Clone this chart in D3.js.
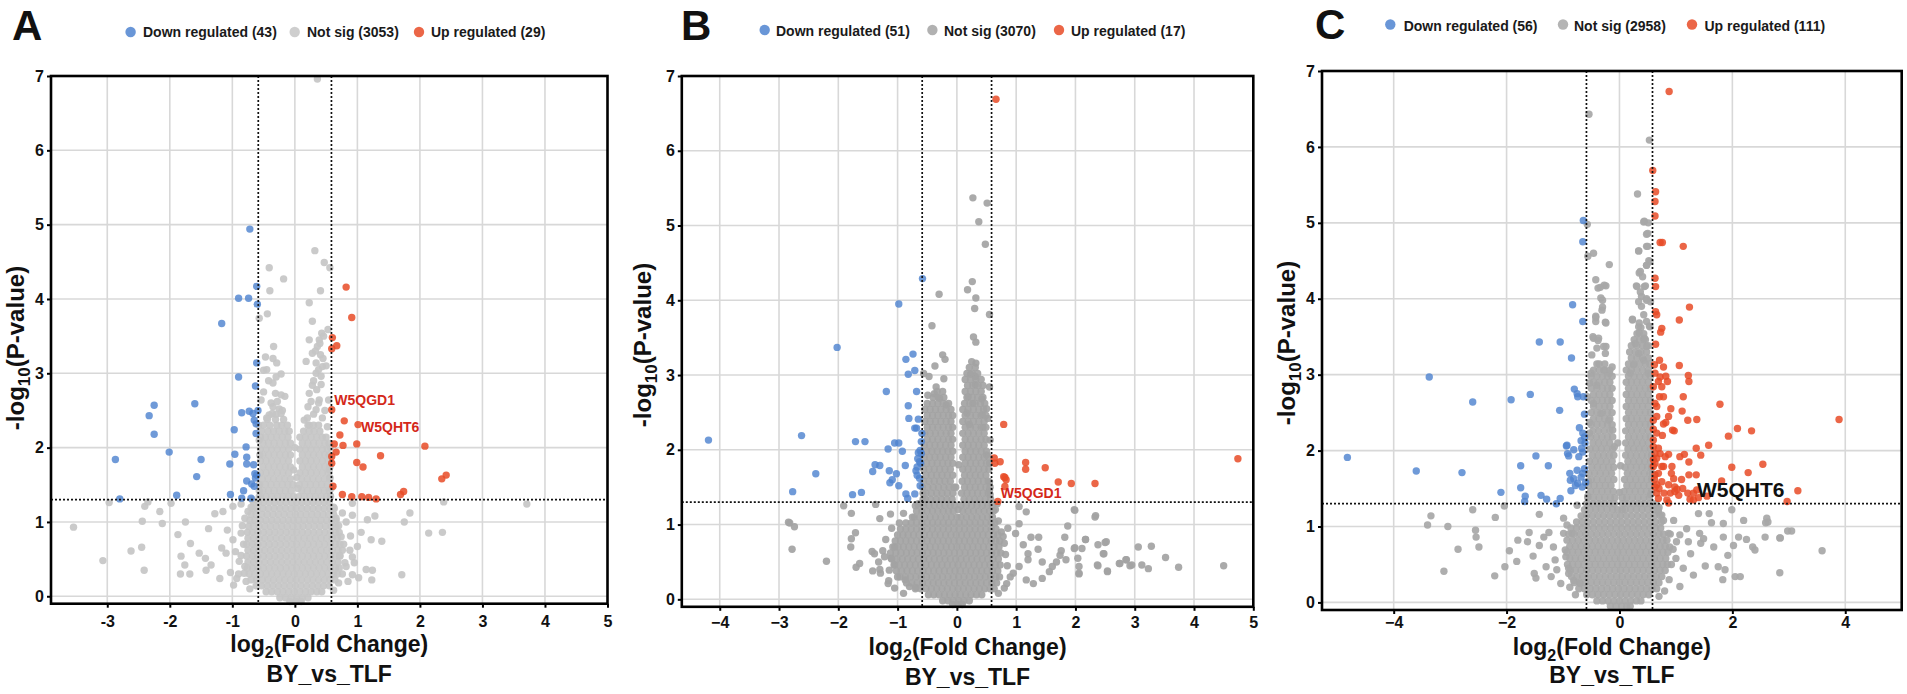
<!DOCTYPE html>
<html><head><meta charset="utf-8">
<script src="https://cdn.jsdelivr.net/npm/d3@7"></script>
<style>
body{margin:0;background:#fff;}
svg text{font-family:"Liberation Sans",Arial,Helvetica,sans-serif;font-weight:bold;}
</style></head><body>
<svg id="chart" width="1907" height="694"></svg>
<script>
// ---------------- DATA ----------------
const legendNames = ["Down regulated", "Not sig", "Up regulated"];
const countsA = [43, 3053, 29];
const countsB = [51, 3070, 17];
const countsC = [56, 2958, 111];
const panelLetters = ["A", "B", "C"];
const yTicks = [0, 1, 2, 3, 4, 5, 6, 7];
const xTicksA = [-3, -2, -1, 0, 1, 2, 3, 4, 5];
const xTicksB = [-4, -3, -2, -1, 0, 1, 2, 3, 4, 5];
const xTicksC = [-4, -2, 0, 2, 4];
const foldCut = 0.585;   // log2(1.5)
const pCut = 1.301;      // -log10(0.05)
const xTitle = ["log", "2", "(Fold Change)"];
const yTitle = ["-log", "10", "(P-value)"];
const comparison = "BY_vs_TLF";
const labelsA = [{gene: "W5QGD1", x: 0.59, y: 2.51}, {gene: "W5QHT6", x: 1.01, y: 2.31}];
const labelsB = [{gene: "W5QGD1", x: 0.69, y: 1.31}];
const labelsC = [{gene: "W5QHT6", x: 1.31, y: 1.35}];

// Panel A
const aDown = [[-0.72,4.94],[-0.61,4.17],[-0.90,4.01],[-0.74,4.01],[-0.60,3.93],[-1.17,3.67],[-0.61,3.14],[-0.90,2.95],[-0.63,2.83],[-2.25,2.57],[-1.60,2.59],[-2.33,2.43],[-0.85,2.47],[-0.73,2.49],[-0.59,2.50],[-2.25,2.18],[-0.97,2.24],[-0.65,2.37],[-0.62,2.32],[-0.78,2.01],[-2.01,1.94],[-2.87,1.84],[-1.50,1.84],[-0.96,1.91],[-0.77,1.87],[-1.04,1.78],[-0.77,1.78],[-0.66,1.77],[-1.57,1.61],[-0.61,1.63],[-0.77,1.55],[-0.69,1.51],[-2.80,1.31],[-1.89,1.36],[-1.03,1.37],[-0.82,1.42],[-0.85,1.32],[-0.70,1.32],[-0.64,1.65],[-0.63,1.59],[-0.67,2.46],[-0.62,2.19],[-0.65,1.48]];
const aUp = [[0.82,4.16],[0.91,3.75],[0.60,3.48],[0.67,3.37],[0.59,3.33],[0.59,2.51],[0.79,2.36],[1.01,2.31],[0.72,2.17],[0.63,2.05],[0.77,2.03],[0.99,2.05],[2.08,2.02],[0.66,1.94],[0.59,1.88],[1.37,1.89],[0.99,1.80],[1.09,1.74],[2.35,1.58],[2.42,1.63],[0.61,1.48],[0.76,1.37],[0.91,1.34],[1.07,1.34],[1.18,1.33],[1.30,1.31],[1.69,1.37],[1.74,1.41],[0.59,1.79]];
const aGrey = [[0.36,6.96],[0.32,4.65],[0.47,4.49],[0.56,4.42],[-0.41,4.42],[-0.18,4.27],[-0.40,4.11],[0.41,4.11],[0.23,3.95],[-0.44,3.80],[-0.57,3.74],[0.28,3.70],[0.53,3.59],[0.43,3.54],[0.23,3.45],[0.39,3.45],[-0.34,3.36],[0.36,3.36],[0.28,3.27],[0.41,3.25],[0.18,3.16],[0.34,3.14],[-0.47,3.22],[-0.29,3.14],[-0.50,3.04],[-0.22,2.99],[0.34,3.00],[0.42,2.96],[0.44,3.09],[-0.35,2.87],[0.28,2.84],[-0.31,2.73],[-0.16,2.69],[-0.22,2.71],[-0.54,2.64],[0.23,2.73],[0.39,2.64],[0.54,2.64],[-0.35,2.55],[-0.25,2.52],[-0.41,2.44],[0.21,2.55],[0.34,2.51],[0.15,2.37],[0.23,2.30],
[0.30,2.45],[0.38,2.60],[0.26,2.62],[0.35,2.78],[0.42,2.85],[0.30,2.90],[0.38,3.05],[0.45,3.20],[0.33,3.30],[0.40,3.40],[0.46,3.50],[0.50,3.10],[0.48,2.50],[0.44,2.40],[0.20,2.40],[-0.45,2.40],[-0.30,2.45],[-0.20,2.50],[-0.38,2.60],[-0.28,2.62],[-0.50,2.75],[-0.42,2.90],[-0.30,2.95],[-0.45,3.05],[-0.35,3.20],
[-3.54,0.93],[-3.07,0.48],[-2.97,1.26],[-2.62,0.61],[-2.45,0.66],[-2.44,1.01],[-2.41,0.35],[-2.40,1.21],[-2.35,1.27],[-2.16,1.14],[-2.12,0.98],[-1.98,1.25],[-1.87,0.83],[-1.82,0.54],[-1.76,0.42],[-1.83,0.30],[-1.75,1.00],[-1.67,0.71],[-1.68,0.30],[-1.53,0.58],[-1.43,0.51],[-1.42,0.35],[-1.38,0.91],[-1.34,0.42],[-1.28,1.11],[-1.20,0.24],[-1.15,1.14],[-1.17,0.65],[-1.10,0.58],[-1.08,0.89],[-1.03,0.32],[-0.99,0.76],[-0.93,0.24],[-0.89,0.47],[-0.86,0.85],[-0.81,0.31],[-0.99,1.21],[-0.86,1.24],[-0.75,1.14],
[0.76,1.12],[0.82,1.00],[0.89,0.81],[0.92,1.09],[0.92,0.53],[1.00,0.67],[1.06,0.86],[1.16,1.03],[1.22,0.76],[1.28,1.08],[1.24,0.35],[1.23,0.22],[1.14,0.36],[1.39,0.74],[0.92,0.29],[0.82,0.40],[0.76,0.62],[0.92,1.25],[1.75,1.00],[1.84,1.12],[1.71,0.29],[2.14,0.85],[2.36,0.86],[2.38,1.27],[3.71,1.24],
[0.62,1.20],[0.66,1.05],[0.70,0.95],[0.74,0.80],[0.78,0.70],[0.72,0.55],[0.80,0.45],[0.76,0.30],[0.70,0.18],[0.62,0.08],[0.85,0.20],[0.88,0.62],[0.95,0.45],[1.02,0.25],[-0.80,1.05],[-0.84,0.95],[-0.82,0.70],[-0.86,0.55],[-0.80,0.40],[-0.78,0.20],[-0.72,0.10],[-0.90,0.30],[-0.95,0.60],[-0.98,0.15],[-0.70,1.20],[-0.68,1.30],[0.57,1.35],[0.58,1.45],[0.56,1.60],[0.55,1.70],[0.57,2.00],[0.52,2.28],[-0.58,2.30],[-0.57,2.10],[-0.56,1.90],[-0.57,1.50],[0.05,1.45],[-0.02,1.70],[0.00,2.00],[0.03,1.60]];
const aCoreRows = [
 [2.46, [-0.36,-0.22]],
 [2.38, [-0.44,-0.31,-0.18]],
 [2.30, [-0.50,-0.40,-0.29,-0.21,-0.12,0.21,0.30,0.38]],
 [2.22, [-0.53,-0.43,-0.34,-0.25,-0.16,-0.09,0.14,0.23,0.31,0.40]],
 [2.14, [-0.55,-0.47,-0.38,-0.29,-0.20,-0.11,0.08,0.17,0.26,0.35,0.44,0.50]],
 [2.06, [-0.51,-0.42,-0.33,-0.24,-0.15,-0.07,0.12,0.21,0.30,0.39,0.48,0.55]],
 [1.98, [-0.55,-0.46,-0.37,-0.28,-0.19,-0.10,0.08,0.17,0.26,0.35,0.44,0.52]],
 [1.90, [-0.51,-0.42,-0.33,-0.24,-0.15,-0.07,0.12,0.21,0.30,0.39,0.48,0.55]],
 [1.82, [-0.55,-0.46,-0.37,-0.28,-0.19,-0.10,0.08,0.17,0.26,0.35,0.44,0.53]],
 [1.74, [-0.51,-0.42,-0.33,-0.24,-0.15,-0.07,0.12,0.21,0.30,0.39,0.48,0.56]],
 [1.66, [-0.55,-0.46,-0.37,-0.28,-0.19,-0.10,0.08,0.17,0.26,0.35,0.44,0.53]],
 [1.58, [-0.52,-0.43,-0.34,-0.25,-0.16,-0.07,0.11,0.20,0.29,0.38,0.47,0.56]],
 [1.50, [-0.56,-0.47,-0.38,-0.29,-0.20,-0.11,-0.03,0.07,0.16,0.25,0.34,0.43,0.52]],
 [1.42, [-0.57,-0.51,-0.42,-0.33,-0.24,-0.15,-0.06,0.11,0.20,0.29,0.38,0.47,0.55]],
 [1.34, [-0.57,-0.55,-0.46,-0.37,-0.28,-0.19,-0.10,-0.02,0.06,0.15,0.24,0.33,0.42,0.51,0.57]],
 [1.26, [-0.66,-0.58,-0.50,-0.41,-0.32,-0.23,-0.14,-0.05,0.03,0.11,0.20,0.29,0.38,0.47,0.55]],
 [1.18, [-0.68,-0.60,-0.51,-0.42,-0.33,-0.24,-0.15,-0.06,0.02,0.11,0.20,0.29,0.38,0.47,0.56,0.63]],
 [1.10, [-0.70,-0.62,-0.53,-0.44,-0.35,-0.26,-0.17,-0.08,0.01,0.09,0.18,0.27,0.36,0.45,0.54,0.62]],
 [1.02, [-0.72,-0.64,-0.55,-0.46,-0.37,-0.28,-0.19,-0.10,-0.02,0.06,0.15,0.24,0.33,0.42,0.51,0.59,0.66]],
 [0.94, [-0.74,-0.66,-0.57,-0.48,-0.39,-0.30,-0.21,-0.12,-0.03,0.05,0.13,0.22,0.31,0.40,0.49,0.58,0.66]],
 [0.86, [-0.76,-0.68,-0.59,-0.50,-0.41,-0.32,-0.23,-0.14,-0.05,0.03,0.12,0.21,0.30,0.39,0.48,0.57,0.65,0.71]],
 [0.78, [-0.75,-0.66,-0.57,-0.48,-0.39,-0.30,-0.21,-0.12,-0.03,0.06,0.15,0.24,0.33,0.42,0.51,0.60,0.68]],
 [0.70, [-0.77,-0.68,-0.59,-0.50,-0.41,-0.32,-0.23,-0.14,-0.05,0.03,0.12,0.21,0.30,0.39,0.48,0.57,0.65,0.72]],
 [0.62, [-0.75,-0.66,-0.57,-0.48,-0.39,-0.30,-0.21,-0.12,-0.03,0.06,0.15,0.24,0.33,0.42,0.51,0.60,0.69]],
 [0.54, [-0.77,-0.68,-0.59,-0.50,-0.41,-0.32,-0.23,-0.14,-0.05,0.03,0.12,0.21,0.30,0.39,0.48,0.57,0.65,0.72]],
 [0.46, [-0.75,-0.66,-0.57,-0.48,-0.39,-0.30,-0.21,-0.12,-0.03,0.06,0.15,0.24,0.33,0.42,0.51,0.60,0.69]],
 [0.38, [-0.76,-0.68,-0.59,-0.50,-0.41,-0.32,-0.23,-0.14,-0.05,0.03,0.12,0.21,0.30,0.39,0.48,0.57,0.65,0.71]],
 [0.30, [-0.73,-0.64,-0.55,-0.46,-0.37,-0.28,-0.19,-0.10,-0.01,0.08,0.17,0.26,0.35,0.44,0.53,0.62,0.68]],
 [0.22, [-0.70,-0.61,-0.52,-0.43,-0.34,-0.25,-0.16,-0.07,0.02,0.11,0.20,0.29,0.38,0.47,0.56,0.64]],
 [0.14, [-0.62,-0.53,-0.44,-0.35,-0.26,-0.17,-0.08,0.01,0.10,0.19,0.28,0.37,0.46,0.55]],
 [0.06, [-0.46,-0.37,-0.28,-0.19,-0.10,-0.01,0.08,0.17,0.26,0.35,0.43]],
 [-0.02, [-0.24,-0.15,-0.06,0.03,0.12,0.21]],
 [-0.07, [-0.08,0.02,0.10]]
];

// Panel B
const bDown = [[-4.19,2.13],[-2.62,2.19],[-2.38,1.68],[-2.77,1.44],[-2.02,3.37],[-1.71,2.11],[-1.55,2.11],[-1.76,1.40],[-1.61,1.43],[-1.42,1.71],[-1.38,1.80],[-1.30,1.79],[-1.19,2.78],[-1.16,2.01],[-1.14,1.72],[-1.13,1.56],[-1.09,1.60],[-1.05,2.09],[-0.98,2.09],[-0.98,3.95],[-0.98,1.52],[-0.92,1.98],[-0.87,1.79],[-0.86,3.21],[-0.74,3.28],[-0.82,3.01],[-0.71,3.06],[-0.68,2.78],[-0.82,2.59],[-0.81,2.42],[-0.71,2.29],[-0.68,2.29],[-0.65,2.41],[-0.60,2.11],[-0.65,1.96],[-0.63,1.84],[-0.67,1.77],[-0.69,1.72],[-0.63,1.62],[-0.62,1.52],[-0.86,1.41],[-0.71,1.41],[-0.83,1.35],[-0.58,4.29],[-0.60,1.95],[-0.66,1.88],[-0.61,1.82],[-0.67,1.66],[-1.02,1.68],[-0.62,1.99],[-0.59,2.22]];
const bUp = [[0.66,6.69],[0.79,2.34],[0.63,1.89],[0.73,1.84],[1.16,1.83],[1.16,1.74],[1.49,1.76],[0.79,1.64],[0.81,1.63],[1.71,1.57],[1.93,1.55],[2.33,1.55],[0.69,1.31],[0.81,1.51],[4.74,1.88],[0.64,1.82],[0.83,1.60]];
const bGrey = [[0.27,5.37],[0.51,5.30],[0.37,5.05],[0.48,4.75],[0.26,4.25],[0.18,4.14],[-0.30,4.08],[0.32,4.03],[0.30,3.89],[0.55,3.81],[-0.42,3.66],[0.28,3.51],[0.32,3.44],
[-0.24,3.27],[-0.20,3.21],[-0.37,3.12],[-0.47,2.98],[-0.22,2.95],[-0.56,3.02],[0.32,3.16],[0.23,3.01],[0.31,2.98],[0.55,2.84],[-0.35,2.84],[0.31,2.87],[0.19,2.71],[0.42,2.68],[0.27,2.62],[0.50,2.55],[-0.38,2.75],[-0.49,2.73],[-0.29,2.69],[-0.18,2.60],[0.17,2.49],[0.43,2.47],[0.52,2.42],[0.21,2.34],[0.44,2.30],[0.56,2.13],[0.50,1.93],[0.55,1.82],[0.55,1.57],[0.55,1.46],
[-1.91,1.25],[-1.78,1.15],[-1.37,1.27],[-1.30,1.08],[-1.12,1.14],[-2.82,1.02],[-2.74,0.97],[-2.78,0.67],[-2.20,0.51],[-1.71,0.89],[-1.78,0.81],[-1.79,0.70],[-1.70,0.43],[-1.64,0.48],[-1.43,0.64],[-1.39,0.61],[-1.42,0.38],[-1.32,0.50],[-1.22,0.57],[-1.16,0.21],[-1.29,0.35],[-1.14,0.39],[-1.05,0.70],[-1.00,0.30],[-1.05,0.46],[-0.97,1.02],[-0.90,1.15],[-1.11,0.55],[-0.80,0.17],[-0.69,0.16],[-0.87,0.26],[-2.84,1.03],
[1.05,1.24],[1.17,1.17],[1.05,1.01],[0.86,0.95],[0.99,0.88],[0.78,0.84],[1.25,0.83],[1.38,0.83],[1.12,0.73],[1.37,0.67],[1.20,0.61],[1.20,0.53],[1.05,0.44],[1.44,0.50],[1.76,0.65],[1.74,0.59],[1.68,0.50],[1.61,0.44],[1.56,0.37],[1.44,0.28],[1.29,0.21],[1.17,0.26],[0.95,0.35],[0.84,0.21],[1.82,0.83],[1.87,0.98],[1.98,1.20],[1.98,0.68],[2.04,0.55],[2.06,0.44],[2.06,0.34],[2.11,0.68],[2.17,0.80],[1.84,0.53],[2.34,1.12],[2.38,0.73],[2.50,0.76],[2.48,0.61],[2.37,0.46],[2.54,0.38],[2.75,0.48],[2.86,0.53],[2.95,0.46],
[3.06,0.70],[3.28,0.71],[3.12,0.46],[3.23,0.41],[3.52,0.56],[3.74,0.43],[4.50,0.45],[2.92,0.45],[2.74,0.48],[2.52,0.77],[2.47,0.61],[2.38,0.45],[2.54,0.37],[2.33,1.10],[1.99,1.19],[2.17,0.80],[2.06,0.35],[2.85,0.53],[1.99,0.69],
[-0.70,1.25],[-0.75,1.10],[-0.65,1.28],[0.65,1.20],[0.70,1.05],[0.75,0.90],[0.68,1.28],[0.56,1.40],[-1.10,0.95],[-1.20,0.80],[-1.25,0.65],[-1.30,0.40],[-1.15,0.25],[-1.05,0.15],[0.80,0.75],[0.82,0.60],[0.85,0.45],[0.90,0.30],[0.80,0.15],[0.70,0.08],[-0.90,0.08],[0.02,1.20],[-0.02,1.50],[0.03,1.80]];
const bCoreRows = [
 [3.18, [0.25]],
 [3.10, [0.21,0.31]],
 [3.02, [0.17,0.26,0.35]],
 [2.94, [0.14,0.23,0.32,0.41]],
 [2.86, [0.18,0.27,0.36,0.44]],
 [2.78, [-0.33,-0.24,0.14,0.23,0.32,0.41]],
 [2.70, [-0.40,-0.31,-0.22,0.17,0.26,0.35,0.44]],
 [2.62, [-0.50,-0.41,-0.32,-0.23,-0.14,0.13,0.22,0.31,0.40,0.47]],
 [2.54, [-0.54,-0.45,-0.36,-0.27,-0.18,-0.10,0.10,0.19,0.28,0.37,0.45]],
 [2.46, [-0.50,-0.41,-0.32,-0.23,-0.14,-0.07,0.14,0.23,0.32,0.41,0.49]],
 [2.38, [-0.54,-0.45,-0.36,-0.27,-0.18,-0.10,0.10,0.19,0.28,0.37,0.46]],
 [2.30, [-0.50,-0.41,-0.32,-0.23,-0.14,-0.07,0.14,0.23,0.32,0.41,0.49]],
 [2.22, [-0.54,-0.45,-0.36,-0.27,-0.18,-0.10,0.10,0.19,0.28,0.37,0.46]],
 [2.14, [-0.50,-0.41,-0.32,-0.23,-0.14,-0.07,0.14,0.23,0.32,0.41,0.49]],
 [2.06, [-0.55,-0.46,-0.37,-0.28,-0.19,-0.10,0.10,0.19,0.28,0.37,0.46]],
 [1.98, [-0.51,-0.42,-0.33,-0.24,-0.15,-0.07,0.14,0.23,0.32,0.41,0.50]],
 [1.90, [-0.55,-0.46,-0.37,-0.28,-0.19,-0.10,0.10,0.19,0.28,0.37,0.46,0.54]],
 [1.82, [-0.51,-0.42,-0.33,-0.24,-0.15,-0.07,0.14,0.23,0.32,0.41,0.50]],
 [1.74, [-0.56,-0.47,-0.38,-0.29,-0.20,-0.11,0.10,0.19,0.28,0.37,0.46,0.54]],
 [1.66, [-0.52,-0.43,-0.34,-0.25,-0.16,-0.07,0.13,0.22,0.31,0.40,0.49]],
 [1.58, [-0.56,-0.47,-0.38,-0.29,-0.20,-0.11,0.09,0.18,0.27,0.36,0.45,0.53]],
 [1.50, [-0.58,-0.49,-0.40,-0.31,-0.22,-0.13,-0.05,0.13,0.22,0.31,0.40,0.49,0.56]],
 [1.42, [-0.57,-0.52,-0.43,-0.34,-0.25,-0.16,-0.07,0.08,0.17,0.26,0.35,0.44,0.53]],
 [1.34, [-0.57,-0.53,-0.44,-0.35,-0.26,-0.17,-0.08,0.12,0.21,0.30,0.39,0.48,0.57]],
 [1.26, [-0.65,-0.56,-0.47,-0.38,-0.29,-0.20,-0.11,-0.04,0.07,0.16,0.25,0.34,0.43,0.52,0.60]],
 [1.18, [-0.68,-0.59,-0.50,-0.41,-0.32,-0.23,-0.14,-0.06,0.10,0.19,0.28,0.37,0.46,0.55,0.62]],
 [1.10, [-0.72,-0.63,-0.54,-0.45,-0.36,-0.27,-0.18,-0.09,0.00,0.07,0.16,0.25,0.34,0.43,0.52,0.60]],
 [1.02, [-0.86,-0.77,-0.68,-0.59,-0.50,-0.41,-0.32,-0.23,-0.14,-0.05,0.04,0.13,0.22,0.31,0.40,0.49,0.58,0.64]],
 [0.94, [-0.95,-0.86,-0.77,-0.68,-0.59,-0.50,-0.41,-0.32,-0.23,-0.14,-0.05,0.04,0.13,0.22,0.31,0.40,0.49,0.58,0.66]],
 [0.86, [-1.00,-0.91,-0.82,-0.73,-0.64,-0.55,-0.46,-0.37,-0.28,-0.19,-0.10,-0.01,0.08,0.17,0.26,0.35,0.44,0.53,0.62,0.69]],
 [0.78, [-1.04,-0.95,-0.86,-0.77,-0.68,-0.59,-0.50,-0.41,-0.32,-0.23,-0.14,-0.05,0.04,0.13,0.22,0.31,0.40,0.49,0.58,0.66,0.72]],
 [0.70, [-1.08,-0.99,-0.90,-0.81,-0.72,-0.63,-0.54,-0.45,-0.36,-0.27,-0.18,-0.09,0.00,0.09,0.18,0.27,0.36,0.45,0.54,0.63,0.71]],
 [0.62, [-1.12,-1.03,-0.94,-0.85,-0.76,-0.67,-0.58,-0.49,-0.40,-0.31,-0.22,-0.13,-0.04,0.05,0.14,0.23,0.32,0.41,0.50,0.59,0.67,0.74]],
 [0.54, [-1.10,-1.01,-0.92,-0.83,-0.74,-0.65,-0.56,-0.47,-0.38,-0.29,-0.20,-0.11,-0.02,0.07,0.16,0.25,0.34,0.43,0.52,0.61,0.70]],
 [0.46, [-1.06,-0.97,-0.88,-0.79,-0.70,-0.61,-0.52,-0.43,-0.34,-0.25,-0.16,-0.07,0.02,0.11,0.20,0.29,0.38,0.47,0.56,0.65,0.73]],
 [0.38, [-1.02,-0.93,-0.84,-0.75,-0.66,-0.57,-0.48,-0.39,-0.30,-0.21,-0.12,-0.03,0.06,0.15,0.24,0.33,0.42,0.51,0.60,0.69]],
 [0.30, [-0.96,-0.87,-0.78,-0.69,-0.60,-0.51,-0.42,-0.33,-0.24,-0.15,-0.06,0.03,0.12,0.21,0.30,0.39,0.48,0.57,0.66,0.72]],
 [0.22, [-0.85,-0.76,-0.67,-0.58,-0.49,-0.40,-0.31,-0.22,-0.13,-0.04,0.05,0.14,0.23,0.32,0.41,0.50,0.59,0.67]],
 [0.14, [-0.70,-0.61,-0.52,-0.43,-0.34,-0.25,-0.16,-0.07,0.02,0.11,0.20,0.29,0.38,0.47,0.56,0.63]],
 [0.06, [-0.48,-0.39,-0.30,-0.21,-0.12,-0.03,0.06,0.15,0.24,0.33,0.42]],
 [-0.02, [-0.24,-0.15,-0.06,0.03,0.12,0.21]],
 [-0.07, [-0.07,0.02,0.09]]
];

// Panel C
const cDown = [[-4.82,1.91],[-3.60,1.73],[-3.37,2.97],[-2.79,1.71],[-2.60,2.64],[-2.10,1.45],[-1.92,2.67],[-1.75,1.80],[-1.75,1.51],[-1.67,1.40],[-1.68,1.33],[-1.58,2.74],[-1.48,1.93],[-1.42,3.43],[-1.39,1.41],[-1.29,1.36],[-1.26,1.80],[-1.12,1.30],[-1.05,1.37],[-1.06,2.53],[-1.05,3.43],[-0.94,2.06],[-0.92,1.96],[-0.90,1.93],[-0.85,3.22],[-0.83,3.92],[-0.88,1.70],[-0.87,1.61],[-0.86,1.47],[-0.81,2.01],[-0.80,2.81],[-0.75,2.75],[-0.74,2.71],[-0.78,1.54],[-0.74,1.57],[-0.71,2.30],[-0.65,3.70],[-0.65,4.75],[-0.64,5.03],[-0.67,2.03],[-0.65,2.23],[-0.62,2.18],[-0.62,2.48],[-0.65,1.70],[-0.62,1.76],[-0.64,2.71],[-0.68,1.65],[-0.65,1.98],[-0.81,1.63],[-0.68,2.13],[-0.61,2.10],[-0.72,1.92],[-0.93,2.07],[-0.66,1.52],[-0.75,1.74],[-0.60,1.58]];
const cUp = [[0.88,6.73],[0.59,5.69],[0.64,5.41],[0.63,5.28],[0.63,5.09],[0.72,4.74],[0.76,4.74],[1.13,4.69],[0.63,4.27],[0.64,4.16],[1.24,3.89],[0.64,3.83],[0.66,3.79],[1.06,3.72],[0.75,3.61],[0.73,3.56],[0.64,3.40],
[0.62,3.13],[0.78,3.10],[1.06,3.12],[0.63,3.02],[0.72,2.97],[0.82,2.98],[1.22,2.99],[1.23,2.91],[0.69,2.91],[0.85,2.91],[0.60,2.84],[0.75,2.84],[0.71,2.71],[0.78,2.71],[1.13,2.71],[1.78,2.61],[0.91,2.55],[1.11,2.52],[0.66,2.45],[0.87,2.45],[1.21,2.40],[1.37,2.41],[0.78,2.35],[0.82,2.37],[0.60,2.28],[0.94,2.27],[0.97,2.26],[2.09,2.29],[2.34,2.26],[1.93,2.19],[1.58,2.07],[1.36,2.03],[0.60,2.05],[0.69,2.03],[0.63,1.96],[0.66,1.90],[0.60,1.88],[0.87,1.95],[1.15,1.95],[1.44,1.94],[0.63,1.83],[1.23,1.85],[0.78,1.79],[0.75,1.79],[1.99,1.78],[2.54,1.82],[2.28,1.71],[0.63,1.68],[1.23,1.68],[1.36,1.68],[0.96,1.63],[1.81,1.60],[0.66,1.55],[0.75,1.59],[0.87,1.55],[0.98,1.52],[1.02,1.49],[0.98,1.46],[0.66,1.44],[0.79,1.44],[1.12,1.50],[1.21,1.44],[1.31,1.44],[1.40,1.38],[0.69,1.37],[0.84,1.35],[0.87,1.31],[1.25,1.36],[1.31,1.35],
[2.97,1.33],[3.16,1.47],[3.89,2.41],
[0.60,1.79],[0.72,1.96],[0.69,1.70],[0.63,1.52],[0.60,2.14],[0.81,1.92],[0.90,1.44],[1.05,1.41],[0.63,2.62],[0.66,2.23],[0.71,3.19],[1.07,1.92],[0.93,1.79],[1.37,1.48],[0.60,2.40],[0.62,1.62],[0.70,1.50],[0.92,1.70],[1.10,1.62],[0.76,2.20],[0.66,2.58],[1.55,1.40]];
const cGrey = [[-0.54,6.43],[0.53,6.09],[0.32,5.38],[0.44,5.02],[0.51,5.00],[-0.57,4.98],[0.48,4.85],[0.48,4.69],[0.34,4.63],[-0.46,4.60],[-0.56,4.56],[0.52,4.50],[-0.18,4.45],[0.48,4.44],[0.35,4.34],[-0.42,4.25],[-0.24,4.17],[-0.38,4.14],[0.30,4.17],[0.44,4.16],[0.39,4.03],[0.48,4.00],[-0.33,4.01],[-0.31,3.85],[0.55,3.96],[0.39,3.90],[0.23,3.72],[-0.42,3.77],[-0.25,3.69],[-0.42,3.70],[0.48,3.70],[0.35,3.68],[0.53,3.64],[-0.46,3.48],[-0.38,3.45],[0.35,3.55],[0.44,3.48],[-0.24,3.37],
[-0.34,4.15],[-0.27,4.18],[-0.30,3.98],[-0.30,3.89],[-0.42,3.75],[-0.24,3.68],[-0.47,3.50],[-0.37,3.48],[-0.28,3.37],[-0.40,3.35],[-0.49,3.26],[-0.25,3.28],[-0.40,3.14],[-0.13,3.10],[-0.28,3.06],[-0.50,3.02],[-0.18,3.02],[-0.53,2.89],[-0.40,2.86],[-0.57,2.71],[-0.46,2.62],[-0.33,2.49],[-0.19,2.40],[-0.53,2.37],[-0.12,2.27],[-0.53,2.23],[-0.09,2.05],
[0.43,5.01],[0.50,4.86],[0.34,4.63],[0.50,4.69],[0.54,4.49],[0.48,4.44],[0.37,4.36],[0.41,4.29],[0.31,4.16],[0.46,4.17],[0.37,4.09],[0.48,3.98],[0.34,3.96],[0.23,3.73],[0.43,3.79],[0.54,3.63],[0.34,3.63],[0.43,3.46],[0.28,3.41],[0.48,3.37],[0.34,3.28],[0.43,3.19],[0.25,3.13],[0.19,3.02],[0.51,3.02],
[-3.40,1.02],[-3.34,1.14],[-3.04,1.00],[-3.11,0.41],[-2.86,0.70],[-2.60,1.22],[-2.55,0.95],[-2.54,0.86],[-2.49,0.73],[-2.21,0.35],[-2.20,1.12],[-2.04,1.27],[-2.03,0.47],[-1.95,0.68],[-1.82,0.54],[-1.80,0.82],[-1.63,0.80],[-1.60,0.92],[-1.53,0.61],[-1.51,0.38],[-1.48,0.32],[-1.42,1.16],[-1.42,0.75],[-1.34,0.86],[-1.30,0.47],[-1.25,0.92],[-1.21,0.34],[-1.17,0.73],[-1.14,0.56],[-1.11,0.43],[-1.04,0.25],[-0.99,1.11],[-0.99,0.91],[-0.96,0.69],[-0.93,1.02],[-0.90,0.38],[-0.84,0.91],[-0.81,0.29],[-0.75,1.28],[-0.70,0.25],
[0.69,1.19],[0.78,1.08],[0.87,0.91],[0.96,1.08],[0.89,0.73],[1.01,0.80],[1.07,0.89],[1.00,0.58],[1.13,0.45],[1.07,0.21],[1.19,0.97],[1.22,0.80],[1.26,0.64],[1.31,0.36],[1.40,1.17],[1.42,0.91],[1.44,0.78],[1.49,0.84],[1.52,0.48],[1.59,1.17],[1.63,1.05],[1.67,0.73],[1.75,0.47],[1.84,0.86],[1.84,1.04],[1.83,0.30],[1.87,0.43],[1.92,0.62],[1.99,1.22],[2.02,0.75],[2.05,0.34],[2.14,0.34],[2.11,0.86],[2.20,1.08],[2.25,0.83],[2.36,0.73],[2.40,0.69],[2.58,0.86],[2.63,1.06],[2.84,0.85],[2.84,0.39],[2.98,0.94],
[3.59,0.68],[3.05,0.94],[2.85,0.85],[2.61,1.11],[2.59,1.05],
[0.70,1.25],[0.75,1.15],[0.90,0.90],[0.95,0.70],[0.92,0.50],[0.88,0.30],[0.80,0.15],[0.70,0.08],[-0.95,0.60],[-0.90,0.45],[-0.88,0.20],[-0.78,0.10],[-0.56,1.40],[-0.55,1.60],[0.55,1.42],[0.58,1.70],[0.00,1.45],[0.02,1.80],[-0.03,2.10]];
const cCoreRows = [
 [3.62, [0.38]],
 [3.54, [0.31,0.43]],
 [3.46, [0.26,0.36,0.46]],
 [3.38, [0.21,0.31,0.41,0.51]],
 [3.30, [0.18,0.28,0.38,0.48]],
 [3.22, [0.21,0.31,0.41,0.51]],
 [3.14, [-0.36,-0.26,0.16,0.26,0.36,0.46,0.54]],
 [3.06, [-0.46,-0.36,-0.26,-0.17,0.12,0.21,0.31,0.41,0.51]],
 [2.98, [-0.50,-0.40,-0.30,-0.21,-0.13,0.16,0.26,0.36,0.46,0.55]],
 [2.90, [-0.46,-0.36,-0.26,-0.17,0.12,0.21,0.31,0.41,0.51]],
 [2.82, [-0.50,-0.40,-0.30,-0.21,-0.13,0.16,0.26,0.36,0.46,0.55]],
 [2.74, [-0.46,-0.36,-0.26,-0.17,0.12,0.21,0.31,0.41,0.51]],
 [2.66, [-0.50,-0.40,-0.30,-0.21,-0.13,0.16,0.26,0.36,0.46,0.55]],
 [2.58, [-0.46,-0.36,-0.26,-0.17,0.12,0.21,0.31,0.41,0.51]],
 [2.50, [-0.50,-0.40,-0.30,-0.21,-0.13,0.16,0.26,0.36,0.46,0.55]],
 [2.42, [-0.46,-0.36,-0.26,-0.17,0.12,0.21,0.31,0.41,0.51]],
 [2.34, [-0.50,-0.40,-0.30,-0.21,-0.13,0.16,0.26,0.36,0.46,0.55]],
 [2.26, [-0.47,-0.37,-0.27,-0.17,0.11,0.21,0.31,0.41,0.51]],
 [2.18, [-0.51,-0.41,-0.31,-0.21,-0.12,0.16,0.26,0.36,0.46,0.55]],
 [2.10, [-0.47,-0.37,-0.27,-0.17,0.11,0.21,0.31,0.41,0.51]],
 [2.02, [-0.52,-0.42,-0.32,-0.22,-0.12,0.15,0.25,0.35,0.45,0.55]],
 [1.94, [-0.48,-0.38,-0.28,-0.18,-0.10,0.11,0.20,0.30,0.40,0.50,0.57]],
 [1.86, [-0.53,-0.43,-0.33,-0.23,-0.13,0.15,0.25,0.35,0.45,0.55]],
 [1.78, [-0.49,-0.39,-0.29,-0.19,-0.10,0.10,0.20,0.30,0.40,0.50,0.57]],
 [1.70, [-0.54,-0.44,-0.34,-0.24,-0.14,0.14,0.24,0.34,0.44,0.54]],
 [1.62, [-0.50,-0.40,-0.30,-0.20,-0.10,0.09,0.19,0.29,0.39,0.49,0.57]],
 [1.54, [-0.55,-0.45,-0.35,-0.25,-0.15,0.13,0.23,0.33,0.43,0.53]],
 [1.46, [-0.51,-0.41,-0.31,-0.21,-0.11,0.08,0.18,0.28,0.38,0.48,0.57]],
 [1.38, [-0.56,-0.46,-0.36,-0.26,-0.16,-0.08,0.05,0.13,0.23,0.33,0.43,0.53]],
 [1.30, [-0.58,-0.48,-0.38,-0.28,-0.18,-0.09,0.06,0.15,0.25,0.35,0.45,0.55,0.64]],
 [1.22, [-0.62,-0.52,-0.42,-0.32,-0.22,-0.12,-0.03,0.05,0.10,0.20,0.30,0.40,0.50,0.60,0.68]],
 [1.14, [-0.68,-0.58,-0.48,-0.38,-0.28,-0.18,-0.08,0.02,0.12,0.22,0.32,0.42,0.52,0.62,0.72]],
 [1.06, [-0.76,-0.66,-0.56,-0.46,-0.36,-0.26,-0.16,-0.06,0.04,0.14,0.24,0.34,0.44,0.54,0.64,0.74]],
 [0.98, [-0.86,-0.76,-0.66,-0.56,-0.46,-0.36,-0.26,-0.16,-0.06,0.04,0.14,0.24,0.34,0.44,0.54,0.64,0.73]],
 [0.90, [-0.90,-0.80,-0.70,-0.60,-0.50,-0.40,-0.30,-0.20,-0.10,0.00,0.10,0.20,0.30,0.40,0.50,0.60,0.70,0.78]],
 [0.82, [-0.93,-0.83,-0.73,-0.63,-0.53,-0.43,-0.33,-0.23,-0.13,-0.03,0.07,0.17,0.27,0.37,0.47,0.57,0.67,0.77,0.84]],
 [0.74, [-0.88,-0.78,-0.68,-0.58,-0.48,-0.38,-0.28,-0.18,-0.08,0.02,0.12,0.22,0.32,0.42,0.52,0.62,0.72,0.81]],
 [0.66, [-0.93,-0.83,-0.73,-0.63,-0.53,-0.43,-0.33,-0.23,-0.13,-0.03,0.07,0.17,0.27,0.37,0.47,0.57,0.67,0.77,0.86]],
 [0.58, [-0.88,-0.78,-0.68,-0.58,-0.48,-0.38,-0.28,-0.18,-0.08,0.02,0.12,0.22,0.32,0.42,0.52,0.62,0.72,0.82]],
 [0.50, [-0.92,-0.83,-0.73,-0.63,-0.53,-0.43,-0.33,-0.23,-0.13,-0.03,0.07,0.17,0.27,0.37,0.47,0.57,0.67,0.77,0.85]],
 [0.42, [-0.87,-0.78,-0.68,-0.58,-0.48,-0.38,-0.28,-0.18,-0.08,0.02,0.12,0.22,0.32,0.42,0.52,0.62,0.72,0.81]],
 [0.34, [-0.85,-0.75,-0.65,-0.55,-0.45,-0.35,-0.25,-0.15,-0.05,0.05,0.15,0.25,0.35,0.45,0.55,0.65,0.75]],
 [0.26, [-0.80,-0.70,-0.60,-0.50,-0.40,-0.30,-0.20,-0.10,0.00,0.10,0.20,0.30,0.40,0.50,0.60,0.70]],
 [0.18, [-0.72,-0.62,-0.52,-0.42,-0.32,-0.22,-0.12,-0.02,0.08,0.18,0.28,0.38,0.48,0.58,0.66]],
 [0.10, [-0.58,-0.48,-0.38,-0.28,-0.18,-0.08,0.02,0.12,0.22,0.32,0.42,0.52]],
 [0.02, [-0.40,-0.30,-0.20,-0.10,0.00,0.10,0.20,0.30,0.38]],
 [-0.05, [-0.16,-0.06,0.04,0.13,0.19]]
];

// ---------------- DRAWING ----------------
const svg = d3.select("#chart");
const FONT = '"Liberation Sans", Arial, Helvetica, sans-serif';
const BLUE = "#4f84d0", RED = "#e84b27";

function expandRows(rows) { return rows.flatMap(r => r[1].map(x => [x, r[0]])); }

const panels = [
  { letter: panelLetters[0], counts: countsA, down: aDown, up: aUp, grey: aGrey.concat(expandRows(aCoreRows)),
    xTicks: xTicksA, xGrid: [-3,-2,-1,0,1,2,3,4], xDomain: [-3.9, 5], left: 51, right: 607.5, top: 76, bottom: 603.7,
    minus: "-", greyColor: "#c6c6c6", tickPad: 8,
    letterPos: [12, 40], legCx: [130.6, 294.7, 419], legTx: [143, 307, 431], legCy: 32, legBase: 37,
    yTitlePos: [24, 348], xTitleBase: [652, 682],
    labels: labelsA, labelOffsets: [[2.5, -4.7], [3, 7.5]], labelSize: 14, labelColor: "#d4281a" },
  { letter: panelLetters[1], counts: countsB, down: bDown, up: bUp, grey: bGrey.concat(expandRows(bCoreRows)),
    xTicks: xTicksB, xGrid: [-4,-3,-2,-1,0,1,2,3,4], xDomain: [-4.64, 5], left: 681.8, right: 1253.3, top: 76, bottom: 606.8,
    minus: "\u2212", greyColor: "#a3a3a3", tickPad: 6,
    letterPos: [681, 40], legCx: [764.7, 932.4, 1059], legTx: [776, 944, 1071], legCy: 30, legBase: 36,
    yTitlePos: [651, 345], xTitleBase: [655, 685],
    labels: labelsB, labelOffsets: [[3, -3]], labelSize: 14, labelColor: "#d4281a" },
  { letter: panelLetters[2], counts: countsC, down: cDown, up: cUp, grey: cGrey.concat(expandRows(cCoreRows)),
    xTicks: xTicksC, xGrid: [-4,-2,0,2,4], xDomain: [-5.27, 5], left: 1322, right: 1901.7, top: 71, bottom: 610,
    minus: "\u2212", greyColor: "#a7a7a7", tickPad: 3,
    letterPos: [1315, 39], legCx: [1390.3, 1563, 1692], legTx: [1403.7, 1574, 1704.5], legCy: 24.5, legBase: 30.5,
    yTitlePos: [1295, 343], xTitleBase: [655, 683],
    labels: labelsC, labelOffsets: [[3.5, -3]], labelSize: 21, labelColor: "#111" }
];

panels.forEach(p => {
  const g = svg.append("g");
  const x = d3.scaleLinear().domain(p.xDomain).range([p.left, p.right]);
  const y = d3.scaleLinear().domain([-0.1, 7]).range([p.bottom, p.top]);

  // grid
  g.append("g").selectAll("line").data(yTicks.filter(d => d < 7)).join("line")
    .attr("x1", p.left).attr("x2", p.right).attr("y1", d => y(d)).attr("y2", d => y(d))
    .attr("stroke", "#d8d8d8").attr("stroke-width", 1.6);
  g.append("g").selectAll("line").data(p.xGrid).join("line")
    .attr("x1", d => x(d)).attr("x2", d => x(d)).attr("y1", p.top).attr("y2", p.bottom)
    .attr("stroke", "#d8d8d8").attr("stroke-width", 1.6);

  // points
  const layers = [[p.grey, p.greyColor, 0.92], [p.down, BLUE, 0.82], [p.up, RED, 0.85]];
  layers.forEach(([data, col, op]) => {
    g.append("g").selectAll("circle").data(data).join("circle")
      .attr("cx", d => x(d[0])).attr("cy", d => y(d[1])).attr("r", 3.7)
      .attr("fill", col).attr("fill-opacity", op);
  });

  // threshold lines
  const th = g.append("g").attr("stroke", "#111").attr("stroke-width", 1.7).attr("stroke-dasharray", "2,2");
  [-foldCut, foldCut].forEach(v => th.append("line").attr("x1", x(v)).attr("x2", x(v)).attr("y1", p.top).attr("y2", p.bottom));
  th.append("line").attr("x1", p.left).attr("x2", p.right).attr("y1", y(pCut)).attr("y2", y(pCut));

  // frame
  g.append("rect").attr("x", p.left).attr("y", p.top).attr("width", p.right - p.left).attr("height", p.bottom - p.top)
    .attr("fill", "none").attr("stroke", "#000").attr("stroke-width", 2.6);

  // axes
  const fmt = d => d < 0 ? p.minus + Math.abs(d) : String(d);
  const ya = g.append("g").attr("transform", `translate(${p.left},0)`)
    .call(d3.axisLeft(y).tickValues(yTicks).tickSize(4).tickSizeOuter(0).tickPadding(3).tickFormat(d3.format("d")));
  const xa = g.append("g").attr("transform", `translate(0,${p.bottom})`)
    .call(d3.axisBottom(x).tickValues(p.xTicks).tickSize(4).tickSizeOuter(0).tickPadding(p.tickPad).tickFormat(fmt));
  [ya, xa].forEach(a => {
    a.select(".domain").remove();
    a.attr("font-family", FONT).attr("font-size", 16).attr("font-weight", "bold");
    a.selectAll("line").attr("stroke", "#000").attr("stroke-width", 2);
    a.selectAll("text").attr("fill", "#111");
  });

  // gene labels
  p.labels.forEach((l, i) => {
    g.append("text").attr("x", x(l.x) + p.labelOffsets[i][0]).attr("y", y(l.y) + p.labelOffsets[i][1])
      .attr("font-size", p.labelSize).attr("fill", p.labelColor).text(l.gene);
  });

  // axis titles
  const cx = (p.left + p.right) / 2;
  const xt = g.append("text").attr("x", cx).attr("y", p.xTitleBase[0]).attr("text-anchor", "middle").attr("font-size", 23).attr("fill", "#111");
  xt.append("tspan").text(xTitle[0]);
  xt.append("tspan").attr("font-size", 16).attr("dy", 6).text(xTitle[1]);
  xt.append("tspan").attr("dy", -6).text(xTitle[2]);
  g.append("text").attr("x", cx).attr("y", p.xTitleBase[1]).attr("text-anchor", "middle").attr("font-size", 23).attr("fill", "#111").text(comparison);

  const yt = g.append("text").attr("transform", `translate(${p.yTitlePos[0]},${p.yTitlePos[1]}) rotate(-90)`)
    .attr("text-anchor", "middle").attr("font-size", 24).attr("fill", "#111");
  yt.append("tspan").text(yTitle[0]);
  yt.append("tspan").attr("font-size", 17).attr("dy", 6).text(yTitle[1]);
  yt.append("tspan").attr("dy", -6).text(yTitle[2]);

  // panel letter
  g.append("text").attr("x", p.letterPos[0]).attr("y", p.letterPos[1]).attr("font-size", 42).attr("fill", "#111").text(p.letter);

  // legend
  const legCols = [BLUE, p.greyColor, RED];
  legendNames.forEach((n, i) => {
    g.append("circle").attr("cx", p.legCx[i]).attr("cy", p.legCy).attr("r", 5.2).attr("fill", legCols[i]).attr("fill-opacity", 0.85);
    g.append("text").attr("x", p.legTx[i]).attr("y", p.legBase).attr("font-size", 14).attr("fill", "#1a1a1a")
      .text(`${n} (${p.counts[i]})`);
  });
});
</script></body></html>
